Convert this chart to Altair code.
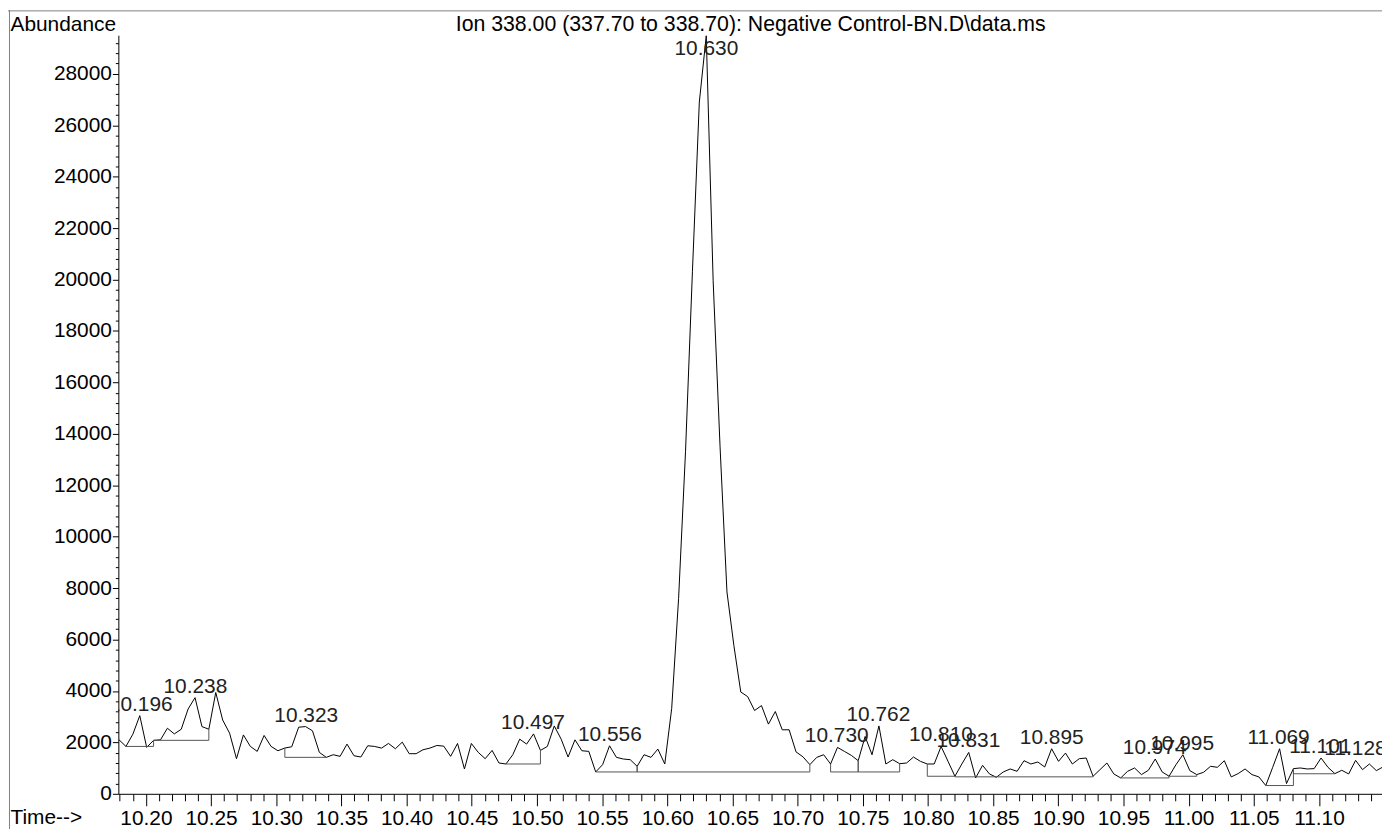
import altair as alt
import pandas as pd

TITLE = "Ion 338.00 (337.70 to 338.70): Negative Control-BN.D\\data.ms"
FONT = "Liberation Sans"

# scan grid of the ion chromatogram (minutes)
SCAN_START = 10.1794
SCAN_STEP = 0.0053

# abundance read scan by scan from the picture
abundance = [
    2100, 1843, 2320, 3040, 1805, 2080, 2100, 2550, 2330, 2510,
    3300, 3740, 2615, 2510, 3940, 2870, 2360, 1365, 2290, 1845,
    1650, 2270, 1845, 1675, 1780, 1830, 2590, 2615, 2450, 1610,
    1418, 1520, 1457, 1933, 1482, 1430, 1868, 1843, 1778, 1958,
    1752, 2010, 1560, 1560, 1713, 1778, 1880, 1855, 1457, 1958,
    966, 1958, 1610, 1366, 1687, 1198, 1160, 1520, 2126, 1933,
    2330, 1687, 1843, 2640, 2126, 1430, 2100, 1675, 1650, 850,
    1134, 1868, 1418, 1353, 1327, 1070, 1520, 1418, 1740, 1160,
    3320, 7600, 13300, 20300, 26900, 29480, 19950, 13500, 7850, 5770,
    3960, 3780, 3240, 3430, 2710, 3200, 2490, 2490, 1630, 1440,
    1134, 1418, 1520, 1160, 1805, 1650, 1495, 1288, 2230, 1520,
    2640, 1160, 1327, 1172, 1198, 1430, 1263, 1160, 1160, 1843,
    1263, 683, 1160, 1610, 618, 1108, 773, 644, 850, 966,
    876, 1288, 1160, 1237, 1044, 1752, 1263, 1585, 1160, 1366,
    1392, 683, 940, 1198, 773, 618, 876, 1005, 747, 915,
    1353, 850, 683, 1134, 1520, 902, 747, 838, 1070, 1031,
    1288, 657, 786, 966, 747, 657, 322, 1031, 1752, 399,
    979, 1005, 966, 979, 1392, 1031, 786, 915, 773, 1301,
    940, 1160, 902, 1050,
]

# labelled peak retention times
peak_rt = [10.196, 10.238, 10.323, 10.497, 10.556, 10.630, 10.730, 10.762,
           10.810, 10.831, 10.895, 10.974, 10.995, 11.069, 11.101, 11.128]

# integration baselines: start scan, end scan, baseline level
seg_start = [1, 5, 24, 56, 69, 75, 103, 107, 117, 121, 145, 152, 166, 170]
seg_end = [5, 13, 30, 61, 75, 100, 107, 113, 121, 141, 152, 156, 170, 176]
seg_level = [1843, 2080, 1418, 1160, 850, 850, 850, 850, 683, 660, 618, 683, 322, 780]

x_minor_ticks = [round(10.18 + 0.01 * i, 2) for i in range(97)]
y_minor_ticks = [400 * i for i in range(74)]

X_DOMAIN = [10.17887, 11.14836]
Y_DOMAIN = [0, 29500]

times = [round(SCAN_START + i * SCAN_STEP, 5) for i in range(len(abundance))]
trace = pd.DataFrame({"t": times, "v": abundance})

pidx = [int(round((rt - SCAN_START) / SCAN_STEP)) for rt in peak_rt]
labels = pd.DataFrame({
    "t": peak_rt,
    "v": [abundance[i] for i in pidx],
    "txt": [f"{rt:.3f}" for rt in peak_rt],
})

base_h = pd.DataFrame({
    "t": [times[i] for i in seg_start],
    "t2": [times[i] for i in seg_end],
    "v": seg_level,
})
drop_rows = []
for s, e, lv in zip(seg_start, seg_end, seg_level):
    drop_rows.append({"t": times[s], "v": lv, "v2": abundance[s]})
    drop_rows.append({"t": times[e], "v": lv, "v2": abundance[e]})
drops = pd.DataFrame(drop_rows)

xs = alt.Scale(domain=X_DOMAIN, nice=False, zero=False)
ys = alt.Scale(domain=Y_DOMAIN, nice=False, zero=False)

major_x = "abs(datum.value*20 - round(datum.value*20)) < 0.001"
major_y = "datum.value % 2000 == 0"

x_axis = alt.Axis(
    values=x_minor_ticks,
    labelExpr=f"{major_x} ? format(datum.value, '.2f') : ''",
    tickSize={"condition": {"test": major_x, "value": 12}, "value": 7},
    labelPadding=2, labelFlush=False, labelOverlap=False, grid=False,
    domainColor="black", tickColor="black", labelColor="black",
    labelFontSize=21, labelFont=FONT,
    title="Time-->", titleX=-109, titleY=30, titleAlign="left",
    titleBaseline="alphabetic", titleAngle=0, titleFontSize=21,
    titleFontWeight="normal", titleColor="black", titleFont=FONT,
)
y_axis = alt.Axis(
    values=y_minor_ticks,
    labelExpr=f"{major_y} ? format(datum.value, 'd') : ''",
    tickSize={"condition": {"test": major_y, "value": 6}, "value": 3},
    labelPadding=1, labelFlush=False, labelOverlap=False, grid=False,
    domainColor="black", tickColor="black", labelColor="black",
    labelFontSize=21, labelFont=FONT,
    title="Abundance", titleX=-109, titleY=-5, titleAlign="left",
    titleBaseline="alphabetic", titleAngle=0, titleFontSize=21,
    titleFontWeight="normal", titleColor="black", titleFont=FONT,
)

line = alt.Chart(trace).mark_line(color="black", strokeWidth=1, clip=True).encode(
    x=alt.X("t:Q", scale=xs, axis=x_axis),
    y=alt.Y("v:Q", scale=ys, axis=y_axis),
)

hbase = alt.Chart(base_h).mark_rule(color="#555555", strokeWidth=1, clip=True).encode(
    x=alt.X("t:Q", scale=xs, axis=x_axis),
    x2="t2:Q",
    y=alt.Y("v:Q", scale=ys, axis=y_axis),
)

vdrop = alt.Chart(drops).mark_rule(color="#555555", strokeWidth=1, clip=True).encode(
    x=alt.X("t:Q", scale=xs, axis=x_axis),
    y=alt.Y("v:Q", scale=ys, axis=y_axis),
    y2="v2:Q",
)

ptext = alt.Chart(labels).transform_calculate(
    ly="min(datum.v, 28520)"
).mark_text(
    font=FONT, fontSize=21, color="#222222", align="center",
    baseline="alphabetic", dy=-5, clip=True,
).encode(
    x=alt.X("t:Q", scale=xs, axis=x_axis),
    y=alt.Y("ly:Q", scale=ys, axis=y_axis),
    text="txt:N",
)

one = pd.DataFrame({"a": [0]})
frame_top = alt.Chart(one).mark_rule(color="#808080", strokeWidth=1).encode(
    x=alt.value(-111), x2=alt.value(1400), y=alt.value(-24.5)
)
frame_left = alt.Chart(one).mark_rule(color="#808080", strokeWidth=1).encode(
    x=alt.value(-109.5), y=alt.value(-25), y2=alt.value(900)
)
title = alt.Chart(pd.DataFrame({"txt": [TITLE]})).mark_text(
    font=FONT, fontSize=21.4, color="black", align="center", baseline="alphabetic"
).encode(x=alt.value(636), y=alt.value(-4.7), text="txt:N")

chart = alt.layer(line, hbase, vdrop, ptext, frame_top, frame_left, title).properties(
    width=1271, height=763,
    padding={"left": 111, "top": 25, "right": 0, "bottom": 33},
    autosize=alt.AutoSizeParams(type="none"),
).configure(font=FONT).configure_view(stroke=None)

chart.save("out.html", embed_options={"renderer": "svg", "actions": False})
